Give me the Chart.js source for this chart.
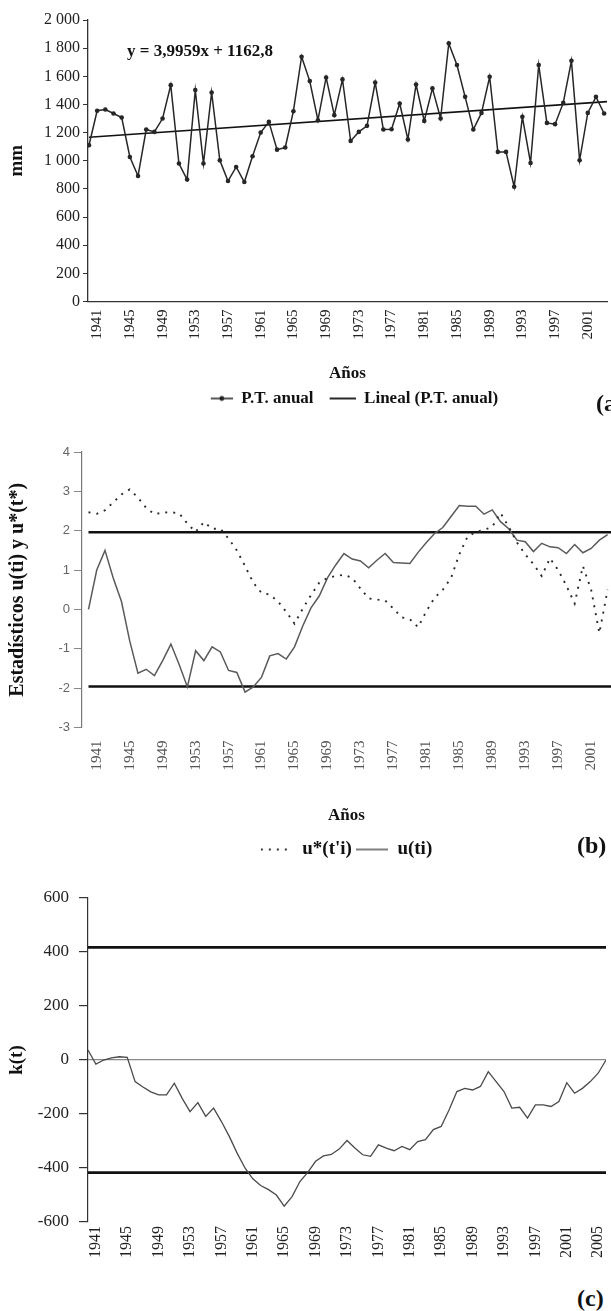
<!DOCTYPE html>
<html><head><meta charset="utf-8">
<script src="https://cdn.jsdelivr.net/npm/chart.js@4.4.1/dist/chart.umd.min.js"></script>
<style>
html,body{margin:0;padding:0;background:#fff;width:611px;height:1311px;overflow:hidden;position:relative;}
.box{position:absolute;left:0;width:611px;}
.lbl{position:absolute;font-family:"Liberation Serif","Times New Roman",serif;font-weight:bold;color:#111;white-space:nowrap;line-height:1;}
</style></head><body>
<div class="box" style="top:0;height:417px"><canvas id="ca"></canvas></div>
<div class="box" style="top:420px;height:449px"><canvas id="cb"></canvas></div>
<div class="box" style="top:870px;height:390px"><canvas id="cc"></canvas></div>
<div class="lbl" style="left:127px;top:42px;font-size:17px">y = 3,9959x + 1162,8</div>
<div class="lbl" style="left:596px;top:391px;font-size:24px">(a)</div>
<div class="lbl" style="left:577px;top:833px;font-size:24px">(b)</div>
<div class="lbl" style="left:577px;top:1286px;font-size:24px">(c)</div>
<script>
// ---------- data ----------
const years = [1940,1941,1942,1943,1944,1945,1946,1947,1948,1949,1950,1951,1952,1953,1954,1955,1956,1957,1958,1959,
  1960,1961,1962,1963,1964,1965,1966,1967,1968,1969,1970,1971,1972,1973,1974,1975,1976,1977,1978,1979,
  1980,1981,1982,1983,1984,1985,1986,1987,1988,1989,1990,1991,1992,1993,1994,1995,1996,1997,1998,1999,
  2000,2001,2002,2003,2004,2005,2006];
const xTickYears = [1941,1945,1949,1953,1957,1961,1965,1969,1973,1977,1981,1985,1989,1993,1997,2001,2005];

// (a) annual total precipitation, mm (visible part of the series)
const ptAnual = [1110,1355,1364,1336,1307,1027,892,1222,1205,1300,
  1537,980,866,1502,980,1485,1003,856,956,849,
  1032,1200,1276,1079,1094,1352,1739,1566,1288,1592,
  1324,1578,1141,1205,1248,1556,1222,1224,1407,1151,
  1542,1283,1514,1300,1834,1680,1454,1222,1340,1597,
  1063,1063,815,1312,984,1680,1269,1260,1411,1710,
  1003,1340,1454,1336];
const trendSlope = 3.9959, trendIntercept = 1162.8;
const yTicksA = [0,200,400,600,800,1000,1200,1400,1600,1800,2000];

// (b) Mann-Kendall sequential statistics
const uStar = [2.47,2.43,2.52,2.72,2.92,3.05,2.84,2.58,2.42,2.46,
  2.47,2.44,2.18,1.97,2.22,2.05,2.05,1.8,1.5,1.1,
  0.68,0.42,0.38,0.2,-0.06,-0.36,0.02,0.36,0.68,0.8,
  0.85,0.88,0.8,0.53,0.28,0.25,0.23,0.02,-0.2,-0.25,
  -0.45,-0.05,0.3,0.5,0.8,1.4,1.85,1.97,2.02,2.1,
  2.45,2.1,1.7,1.4,1.15,0.85,1.3,1.0,0.6,0.15,
  1.1,0.5,-0.6,0.5];
const uT = [0,1.0,1.5,0.8,0.2,-0.8,-1.62,-1.52,-1.68,-1.3,
  -0.88,-1.4,-1.97,-1.05,-1.3,-0.95,-1.08,-1.55,-1.6,-2.1,
  -1.97,-1.72,-1.18,-1.12,-1.26,-0.95,-0.42,0.04,0.34,0.8,
  1.13,1.42,1.28,1.23,1.06,1.25,1.42,1.19,1.18,1.17,
  1.45,1.7,1.93,2.08,2.36,2.64,2.62,2.62,2.42,2.53,
  2.23,2.05,1.76,1.72,1.47,1.68,1.59,1.57,1.42,1.65,
  1.44,1.55,1.76,1.9];
const criticalU = 1.96;
const yTicksB = [-3,-2,-1,0,1,2,3,4];

// (c) k(t) statistic
const kT = [37,-15,0,8,12,10,-80,-100,-118,-129,
  -129,-86,-142,-191,-158,-209,-178,-228,-283,-345,
  -400,-440,-465,-480,-500,-541,-506,-450,-416,-375,
  -355,-350,-330,-298,-326,-351,-357,-314,-326,-336,
  -320,-332,-302,-295,-258,-246,-185,-117,-105,-111,
  -98,-43,-80,-117,-178,-175,-215,-166,-166,-172,
  -154,-84,-123,-105,-80,-49,0];
const criticalK = 417;
const yTicksC = [-600,-400,-200,0,200,400,600];

// ---------- helpers ----------
const SERIF = '"Liberation Serif","Times New Roman",serif';
const SANS = '"Liberation Sans",Arial,sans-serif';
Chart.defaults.font.family = SERIF;
const pts = vals => vals.map((v,i)=>({x:years[i], y:v}));
const first = years[0], last = years[years.length-1];
const setTicks = list => s => { s.ticks = list.filter(v=>v>=s.min-1e-9 && v<=s.max+1e-9).map(v=>({value:v})); };
function sym(w, draw){ const c=document.createElement('canvas'); c.width=w; c.height=12; const g=c.getContext('2d'); draw(g); return c; }
function legendWith(symbols, n){
  return chart => Chart.defaults.plugins.legend.labels.generateLabels(chart)
    .filter(it=>it.datasetIndex<n).map((it,k)=>Object.assign(it,{pointStyle:symbols[k]}));
}
const fmtA = v => v>=1000 ? Math.floor(v/1000)+' '+String(v%1000).padStart(3,'0') : String(v);

// ---------- (a) ----------
const symA = [
  sym(36,g=>{g.strokeStyle='#222';g.lineWidth=1.5;g.beginPath();g.moveTo(14,6);g.lineTo(36,6);g.stroke();g.fillStyle='#222';g.beginPath();g.arc(25,6,2.4,0,Math.PI*2);g.fill();}),
  sym(36,g=>{g.strokeStyle='#111';g.lineWidth=1.8;g.beginPath();g.moveTo(10,6);g.lineTo(36,6);g.stroke();})
];
new Chart(document.getElementById('ca'),{
  type:'line',
  data:{datasets:[
    {label:'P.T. anual', data:pts(ptAnual), borderColor:'#262626', borderWidth:1.5, pointRadius:2.3,
     pointBackgroundColor:'#262626', pointBorderWidth:0, tension:0},
    {label:'Lineal (P.T. anual)', data:[{x:first,y:trendIntercept+trendSlope*1},{x:last,y:trendIntercept+trendSlope*years.length}],
     borderColor:'#111', borderWidth:1.7, pointRadius:0}
  ]},
  options:{
    responsive:true, maintainAspectRatio:false, animation:false, devicePixelRatio:1,
    layout:{padding:{top:20,left:0,right:0,bottom:0}},
    plugins:{tooltip:{enabled:false},
      legend:{position:'bottom', fullSize:false,
        labels:{usePointStyle:true, pointStyleWidth:36, padding:6, color:'#111',
          font:{family:SERIF,size:17,weight:'bold'}, generateLabels:legendWith(symA,2)}}},
    scales:{
      x:{type:'linear', min:1939.88, max:2003.35, afterBuildTicks:setTicks(xTickYears),
        ticks:{autoSkip:false, minRotation:90, maxRotation:90, padding:8, color:'#222',
          font:{family:SERIF,size:15}, callback:v=>String(v)},
        grid:{display:false, drawTicks:false}, border:{display:true,color:'#333',width:1.3},
        title:{display:true,text:'Años',color:'#111',font:{family:SERIF,size:17,weight:'bold'},padding:{top:0,bottom:0}},
        afterFit:s=>{s.height=82.5;s.paddingLeft=0;s.paddingRight=0;}},
      y:{min:0,max:2000, afterBuildTicks:setTicks(yTicksA),
        ticks:{padding:3,color:'#222',font:{family:SERIF,size:16},callback:fmtA},
        grid:{display:true,drawOnChartArea:false,drawTicks:true,tickLength:5,color:'#333',tickColor:'#333'},
        border:{display:true,color:'#333',width:1.3},
        title:{display:true,text:'mm',color:'#111',font:{family:SERIF,size:19,weight:'bold'},padding:{top:6,bottom:0}},
        afterFit:s=>{s.width=88;s.paddingTop=0;s.paddingBottom=0;}}
    }
  }
});

// ---------- (b) ----------
const symB = [
  sym(32,g=>{g.strokeStyle='#333';g.lineWidth=1.8;g.setLineDash([2,6]);g.beginPath();g.moveTo(0,6);g.lineTo(32,6);g.stroke();}),
  sym(32,g=>{g.strokeStyle='#555';g.lineWidth=1.5;g.beginPath();g.moveTo(0,6);g.lineTo(32,6);g.stroke();})
];
new Chart(document.getElementById('cb'),{
  type:'line',
  data:{datasets:[
    {label:"u*(t'i)", data:pts(uStar), borderColor:'#2a2a2a', borderWidth:1.9, borderDash:[2,6], pointRadius:0, tension:0},
    {label:'u(ti)', data:pts(uT), borderColor:'#5a5a5a', borderWidth:1.5, pointRadius:0, tension:0},
    {label:'+1.96', data:[{x:first,y:criticalU},{x:last,y:criticalU}], borderColor:'#111', borderWidth:2.6, pointRadius:0},
    {label:'-1.96', data:[{x:first,y:-criticalU},{x:last,y:-criticalU}], borderColor:'#111', borderWidth:2.6, pointRadius:0}
  ]},
  options:{
    responsive:true, maintainAspectRatio:false, animation:false, devicePixelRatio:1,
    layout:{padding:{top:32,left:0,right:0,bottom:0}},
    plugins:{tooltip:{enabled:false},
      legend:{position:'bottom', fullSize:false,
        labels:{usePointStyle:true, pointStyleWidth:32, padding:4, color:'#111',
          font:{family:SERIF,size:19,weight:'bold'}, generateLabels:legendWith(symB,2)}}},
    scales:{
      x:{type:'linear', min:1939.21, max:2003.41, afterBuildTicks:setTicks(xTickYears),
        ticks:{autoSkip:false, minRotation:90, maxRotation:90, padding:13, color:'#555',
          font:{family:SERIF,size:15}, callback:v=>String(v)},
        grid:{display:false, drawTicks:false}, border:{display:false},
        title:{display:true,text:'Años',color:'#111',font:{family:SERIF,size:17,weight:'bold'},padding:{top:0,bottom:10}},
        afterFit:s=>{s.height=108.5;s.paddingLeft=0;s.paddingRight=0;}},
      y:{min:-3,max:4, afterBuildTicks:setTicks(yTicksB),
        ticks:{padding:4,color:'#666',font:{family:SANS,size:13}},
        grid:{display:true,drawOnChartArea:false,drawTicks:true,tickLength:8,color:'#888',tickColor:'#888'},
        border:{display:true,color:'#777',width:1.2},
        title:{display:true,text:'Estadísticos u(ti) y u*(t*)',color:'#111',font:{family:SERIF,size:20,weight:'bold'},padding:{top:5.5,bottom:0}},
        afterFit:s=>{s.width=82;s.paddingTop=0;s.paddingBottom=0;}}
    }
  }
});

// ---------- (c) ----------
new Chart(document.getElementById('cc'),{
  type:'line',
  data:{datasets:[
    {label:'k(t)', data:pts(kT), borderColor:'#4a4a4a', borderWidth:1.3, pointRadius:0, tension:0},
    {label:'+K', data:[{x:first,y:criticalK},{x:last,y:criticalK}], borderColor:'#111', borderWidth:2.8, pointRadius:0},
    {label:'-K', data:[{x:first,y:-criticalK},{x:last,y:-criticalK}], borderColor:'#111', borderWidth:2.8, pointRadius:0}
  ]},
  options:{
    responsive:true, maintainAspectRatio:false, animation:false, devicePixelRatio:1,
    layout:{padding:{top:28,left:0,right:5,bottom:0}},
    plugins:{tooltip:{enabled:false}, legend:{display:false}},
    scales:{
      x:{type:'linear', min:first, max:last, afterBuildTicks:setTicks(xTickYears),
        ticks:{autoSkip:false, minRotation:90, maxRotation:90, padding:4, color:'#222',
          font:{family:SERIF,size:16}, callback:v=>String(v)},
        grid:{display:false, drawTicks:false}, border:{display:false},
        afterFit:s=>{s.height=38;s.paddingLeft=0;s.paddingRight=0;}},
      y:{min:-600,max:600, afterBuildTicks:setTicks(yTicksC),
        ticks:{padding:10,color:'#222',font:{family:SERIF,size:17}},
        grid:{display:true,drawOnChartArea:true,drawTicks:true,tickLength:9,lineWidth:1.2,
          color:c=>(c.tick && c.tick.value===0)?'#8a8a8a':'rgba(0,0,0,0)',tickColor:'#333'},
        border:{display:true,color:'#333',width:1.2},
        title:{display:true,text:'k(t)',color:'#111',font:{family:SERIF,size:19,weight:'bold'},padding:{top:6,bottom:0}},
        afterFit:s=>{s.width=88;s.paddingTop=0;s.paddingBottom=0;}}
    }
  }
});
</script>
</body></html>
